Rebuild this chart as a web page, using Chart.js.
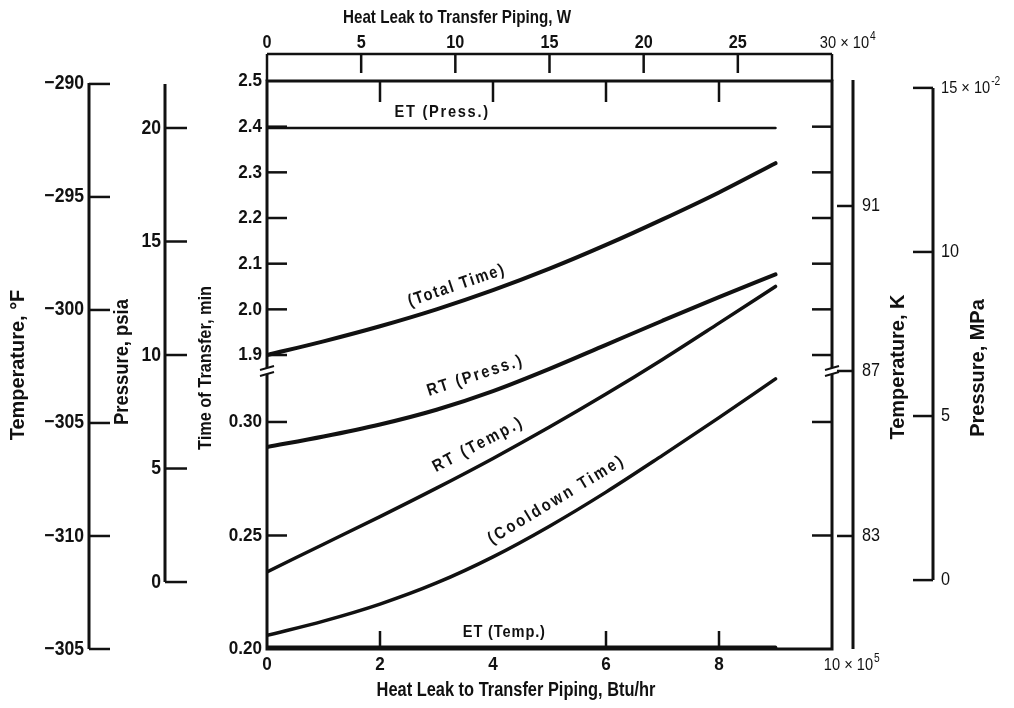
<!DOCTYPE html>
<html>
<head>
<meta charset="utf-8">
<title>Heat leak to transfer piping</title>
<script src="https://cdn.jsdelivr.net/npm/chart.js@4.4.1/dist/chart.umd.min.js"></script>
<style>
  html, body { margin: 0; padding: 0; background: #fff; }
  #wrap { width: 1014px; height: 708px; position: relative; }
</style>
</head>
<body>
<div id="wrap"><canvas id="chart"></canvas></div>
<script>
// heat leak, x 10^5 Btu/hr
var heatLeak = [0, 1, 2, 3, 4, 5, 6, 7, 8, 9];

// time of transfer, min (upper and lower part of the broken axis)
var totalTime    = [1.90, 1.93, 1.963, 2.00, 2.042, 2.089, 2.141, 2.197, 2.256, 2.32];
var cooldownTime = [0.206, 0.2123, 0.2198, 0.2291, 0.2406, 0.2541, 0.2691, 0.2853, 0.3019, 0.319];

// pressures, psia
var etPress = [20, 20, 20, 20, 20, 20, 20, 20, 20, 20];
var rtPress = [5.95, 6.41, 6.94, 7.59, 8.41, 9.39, 10.45, 11.51, 12.55, 13.55];

// temperatures, K
var rtTemp = [82.13, 82.80, 83.47, 84.16, 84.88, 85.64, 86.44, 87.28, 88.16, 89.05];
var etTemp = [80.3, 80.3, 80.3, 80.3, 80.3, 80.3, 80.3, 80.3, 80.3, 80.3];

// tick values and labels
var btuTicks = [0, 2, 4, 6, 8, 10];
var wattTicks = [0, 5, 10, 15, 20, 25, 30];
var timeTicksHigh = [2.5, 2.4, 2.3, 2.2, 2.1, 2.0, 1.9];
var timeTicksLow = [0.30, 0.25, 0.20];
var degFTicks = [-290, -295, -300, -305, -310, -315];
var degFLabels = ['\u2212290', '\u2212295', '\u2212300', '\u2212305', '\u2212310', '\u2212305'];
var psiaTicks = [20, 15, 10, 5, 0];
var kelvinTicks = [91, 87, 83];
var mpaTicks = [15, 10, 5, 0];

var INK = '#111';
var FONT = '"Liberation Sans", Arial, sans-serif';

function pts(ys) {
  return heatLeak.map(function (x, i) { return { x: x, y: ys[i] }; });
}

function line(label, ys, axis, width) {
  return {
    label: label,
    data: pts(ys),
    yAxisID: axis,
    borderColor: INK,
    borderWidth: width,
    pointRadius: 0,
    borderCapStyle: 'round',
    cubicInterpolationMode: 'monotone',
    fill: false
  };
}

function txt(ctx, s, x, y, size, o) {
  o = o || {};
  var sx = o.sx || 0.86;
  ctx.save();
  ctx.translate(x, y);
  if (o.rot) ctx.rotate(o.rot);
  ctx.scale(sx, 1);
  ctx.font = (o.weight || 'bold') + ' ' + size + 'px ' + FONT;
  ctx.textAlign = o.align || 'center';
  ctx.textBaseline = 'middle';
  ctx.letterSpacing = (o.spacing || 0) + 'px';
  ctx.fillStyle = INK;
  ctx.fillText(s, 0, 0);
  var w = ctx.measureText(s).width * sx;
  ctx.restore();
  return w;
}

// "10 × 10" followed by a raised exponent, the mantissa centred on x
function sciLabel(ctx, mant, exp, x, y, size, o) {
  o = o || {};
  ctx.save();
  ctx.font = (o.weight || 'bold') + ' ' + size + 'px ' + FONT;
  var wm = ctx.measureText(mant).width * (o.sx || 0.86);
  ctx.restore();
  var x0 = o.left ? x : x - wm / 2;
  var w = txt(ctx, mant + ' \u00d7 10', x0, y, size, Object.assign({}, o, { align: 'left' }));
  txt(ctx, exp, x0 + w + 1, y - size * 0.38, size * 0.7, Object.assign({}, o, { align: 'left' }));
}

function seg(ctx, x1, y1, x2, y2, w) {
  ctx.beginPath();
  ctx.moveTo(x1, y1);
  ctx.lineTo(x2, y2);
  ctx.lineWidth = w;
  ctx.stroke();
}

// label riding along a curve, rotated with its local slope
function curveLabel(chart, idx, xv, off, s, size, spacing) {
  var ctx = chart.ctx;
  var pts = chart.getDatasetMeta(idx).data;
  var i = Math.min(Math.floor(xv), pts.length - 2);
  var f = xv - i;
  var a = pts[i], b = pts[i + 1];
  var px = a.x + (b.x - a.x) * f;
  var py = a.y + (b.y - a.y) * f;
  var ang = Math.atan2(b.y - a.y, b.x - a.x);
  px += off * Math.sin(ang);
  py -= off * Math.cos(ang);
  txt(ctx, s, px, py, size, { rot: ang, spacing: spacing });
}

var axesPlugin = {
  id: 'axesPlugin',
  afterDraw: function (chart) {
    var ctx = chart.ctx;
    var ca = chart.chartArea;
    var s = chart.scales;
    ctx.save();
    ctx.strokeStyle = INK;
    ctx.lineCap = 'butt';

    // plot frame
    ctx.lineWidth = 3;
    ctx.strokeRect(ca.left, ca.top, ca.right - ca.left, ca.bottom - ca.top);

    // inward ticks on the frame
    timeTicksHigh.slice(1).forEach(function (v) {
      var y = s.yTime.getPixelForValue(v);
      seg(ctx, ca.left, y, ca.left + 20, y, 2.5);
      seg(ctx, ca.right - 20, y, ca.right, y, 2.5);
    });
    timeTicksLow.slice(0, 2).forEach(function (v) {
      var y = s.yCool.getPixelForValue(v);
      seg(ctx, ca.left, y, ca.left + 20, y, 2.5);
      seg(ctx, ca.right - 20, y, ca.right, y, 2.5);
    });
    btuTicks.slice(1, -1).forEach(function (v) {
      var x = s.x.getPixelForValue(v);
      seg(ctx, x, ca.top, x, ca.top + 21, 2.5);
      if (v !== 4) seg(ctx, x, ca.bottom, x, ca.bottom - 18, 2.5); // ET (Temp.) label sits over 4
    });

    // axis breaks between 1.9 and 0.30
    var by = s.yTime.getPixelForValue(1.9) + 16;
    [ca.left, ca.right].forEach(function (x) {
      ctx.fillStyle = '#fff';
      ctx.fillRect(x - 3, by - 3, 6, 6);
      seg(ctx, x - 7, by - 1, x + 7, by - 5, 2);
      seg(ctx, x - 7, by + 5, x + 7, by + 1, 2);
    });

    // time labels on the left of the frame
    timeTicksHigh.forEach(function (v) {
      txt(ctx, v.toFixed(1), ca.left - 5, s.yTime.getPixelForValue(v), 19, { align: 'right', sx: 0.9 });
    });
    timeTicksLow.forEach(function (v) {
      txt(ctx, v.toFixed(2), ca.left - 5, s.yCool.getPixelForValue(v), 19, { align: 'right', sx: 0.9 });
    });
    txt(ctx, 'Time of Transfer, min', 206, 368, 19, { rot: -Math.PI / 2 });

    // bottom axis labels, Btu/hr
    btuTicks.forEach(function (v) {
      var x = s.x.getPixelForValue(v);
      if (v === 10) sciLabel(ctx, '10', '5', x, 665, 17, { weight: 'normal' });
      else txt(ctx, String(v), x, 665, 19, { sx: 0.9 });
    });
    txt(ctx, 'Heat Leak to Transfer Piping, Btu/hr', 516, 690, 20, { sx: 0.82 });

    // top axis, W
    var wy = 54;
    seg(ctx, s.xW.getPixelForValue(0), wy, s.xW.getPixelForValue(30), wy, 2.5);
    wattTicks.forEach(function (v) {
      var x = s.xW.getPixelForValue(v);
      var end = (v === 0 || v === 30) ? ca.top : wy + 19;
      seg(ctx, x, wy, x, end, 2.5);
      if (v === 30) sciLabel(ctx, '30', '4', x - 4, 43, 17, { weight: 'normal' });
      else txt(ctx, String(v), x, 43, 18, { sx: 0.9 });
    });
    txt(ctx, 'Heat Leak to Transfer Piping, W', 457, 18, 19, { sx: 0.8 });

    // far left: temperature, degF
    var fx = 89;
    seg(ctx, fx, s.yF.getPixelForValue(-290) - 1, fx, s.yF.getPixelForValue(-315), 3);
    degFTicks.forEach(function (v, i) {
      var y = s.yF.getPixelForValue(v);
      seg(ctx, fx, y, fx + 21, y, 2.5);
      txt(ctx, degFLabels[i], fx - 5, y, 20, { align: 'right', sx: 0.88 });
    });
    txt(ctx, 'Temperature, \u00b0F', 18, 365, 21, { rot: -Math.PI / 2, sx: 0.95 });

    // left: pressure, psia
    var px = 165;
    seg(ctx, px, ca.top + 3, px, s.yPsia.getPixelForValue(0), 3);
    psiaTicks.forEach(function (v) {
      var y = s.yPsia.getPixelForValue(v);
      seg(ctx, px, y, px + 22, y, 2.5);
      txt(ctx, String(v), px - 4, y, 20, { align: 'right', sx: 0.88 });
    });
    txt(ctx, 'Pressure, psia', 122, 362, 20, { rot: -Math.PI / 2, sx: 0.92 });

    // right: temperature, K
    var kx = 853;
    seg(ctx, kx, ca.top - 1, kx, ca.bottom, 3);
    kelvinTicks.forEach(function (v) {
      var y = s.yK.getPixelForValue(v);
      seg(ctx, kx - 16, y, kx, y, 2.5);
      txt(ctx, String(v), kx + 9, y, 18, { align: 'left', weight: 'normal', sx: 0.9 });
    });
    txt(ctx, 'Temperature, K', 898, 367, 21, { rot: -Math.PI / 2, sx: 0.95 });

    // far right: pressure, MPa
    var mx = 933;
    seg(ctx, mx, s.yMPa.getPixelForValue(15), mx, s.yMPa.getPixelForValue(0), 3);
    mpaTicks.forEach(function (v) {
      var y = s.yMPa.getPixelForValue(v);
      seg(ctx, mx - 20, y, mx, y, 2.5);
      if (v === 15) sciLabel(ctx, '15', '-2', mx + 8, y, 17, { weight: 'normal', left: true });
      else txt(ctx, String(v), mx + 8, y, 18, { align: 'left', weight: 'normal', sx: 0.9 });
    });
    txt(ctx, 'Pressure, MPa', 978, 368, 21, { rot: -Math.PI / 2, sx: 0.95 });

    // curve names
    txt(ctx, 'ET (Press.)', s.x.getPixelForValue(3.1), s.yPsia.getPixelForValue(etPress[3]) - 16, 17, { spacing: 2 });
    curveLabel(chart, 1, 3.45, 16, '(Total Time)', 17, 2);
    curveLabel(chart, 2, 3.8, 20, 'RT (Press.)', 17, 2.5);
    curveLabel(chart, 3, 3.9, 19, 'RT (Temp.)', 17, 3);
    curveLabel(chart, 4, 5.3, 19, '(Cooldown Time)', 17, 3);
    txt(ctx, 'ET (Temp.)', s.x.getPixelForValue(4.2), s.yK.getPixelForValue(etTemp[4]) - 15, 17, { spacing: 1 });

    ctx.restore();
  }
};

function hidden(axis, min, max) {
  return { type: 'linear', axis: axis, min: min, max: max, display: false };
}

new Chart(document.getElementById('chart'), {
  type: 'line',
  data: {
    datasets: [
      line('ET (Press.)', etPress, 'yPsia', 2.5),
      line('Total Time', totalTime, 'yTime', 4),
      line('RT (Press.)', rtPress, 'yPsia', 4),
      line('RT (Temp.)', rtTemp, 'yK', 3.5),
      line('Cooldown Time', cooldownTime, 'yCool', 3.5),
      line('ET (Temp.)', etTemp, 'yK', 3.5)
    ]
  },
  options: {
    responsive: true,
    maintainAspectRatio: false,
    animation: false,
    layout: { padding: { left: 267, right: 182, top: 81, bottom: 59 } },
    plugins: { legend: { display: false }, tooltip: { enabled: false } },
    scales: {
      x: hidden('x', 0, 10),
      xW: hidden('x', 0, 30),
      yTime: hidden('y', 1.2563, 2.5),
      yCool: hidden('y', 0.20, 0.4502),
      yPsia: hidden('y', -2.95, 22.07),
      yK: hidden('y', 80.26, 94.03),
      yF: hidden('y', -315, -289.87),
      yMPa: hidden('y', -2.10, 15.21)
    }
  },
  plugins: [axesPlugin]
});
</script>
</body>
</html>
